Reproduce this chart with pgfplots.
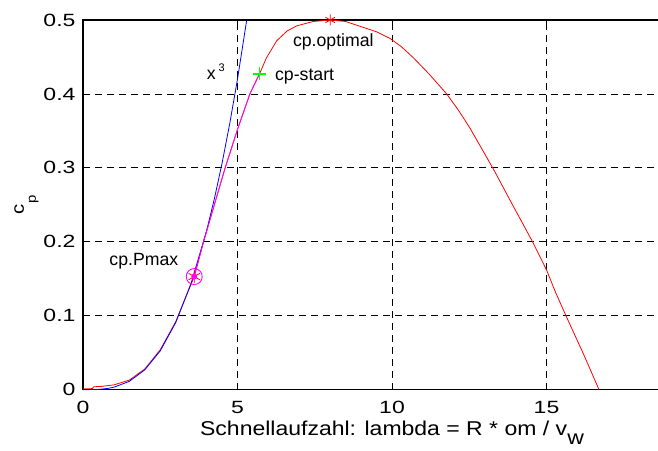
\documentclass[border=0pt]{standalone}
\usepackage{fontspec}
\setmainfont{Liberation Sans}
\newfontfamily\tickfont{Liberation Sans}[FakeStretch=1.3]
\newfontfamily\labfont{Liberation Sans}[FakeStretch=1.15]
\usepackage{pgfplots}
\pgfplotsset{compat=1.18}

\definecolor{mred}{rgb}{1,0,0}
\definecolor{mblue}{rgb}{0,0,1}
\definecolor{mgreen}{rgb}{0,1,0}
\definecolor{mmag}{rgb}{1,0,1}

% power coefficient cp over tip speed ratio lambda
\pgfplotstableread{
lambda cp
0     0.001
0.30  0.0015
0.35  0.004
0.60  0.0045
1.00  0.0065
1.50  0.013
2.00  0.028
2.50  0.054
3.00  0.092
3.60  0.153
3.90  0.200
4.25  0.250
4.60  0.300
5.00  0.352
5.40  0.400
5.71  0.427
5.94  0.449
6.27  0.472
6.60  0.485
6.91  0.492
7.45  0.498
8.00  0.500
8.50  0.498
9.00  0.491
9.50  0.484
9.94  0.475
10.30 0.464
10.69 0.449
11.20 0.427
11.77 0.400
12.15 0.378
12.52 0.354
13.00 0.319
13.30 0.297
13.90 0.250
14.20 0.227
14.55 0.200
15.00 0.162
15.30 0.131
15.63 0.100
16.20 0.048
16.70 0.000
}\cpcurve

% section between cp.Pmax and cp-start
\pgfplotstableread{
lambda cp
3.60  0.153
3.90  0.200
4.25  0.250
4.60  0.300
5.00  0.352
5.40  0.400
5.71  0.427
}\cpstart

% cubic reference x^3
\pgfplotstableread{
lambda cp
0.00 0.0000
0.50 0.0004
0.80 0.0017
1.00 0.0034
1.50 0.0113
2.00 0.0269
2.50 0.0525
3.00 0.0907
3.50 0.1441
4.00 0.2150
4.25 0.2579
4.50 0.3062
4.75 0.3601
5.00 0.4200
5.298 0.5000
}\cubic

\begin{document}
\begin{tikzpicture}
\useasboundingbox (-83pt,-60.3pt) rectangle (575pt,389.7pt);
\clip (-83pt,-60.3pt) rectangle (575pt,389.7pt);
\begin{axis}[
  at={(0pt,0pt)}, anchor=south west,
  width=618pt, height=369.7pt, scale only axis,
  xmin=0, xmax=20, ymin=0, ymax=0.5,
  xtick={0,5,10,15}, xticklabels={0,5,10,15},
  extra x ticks={20}, extra x tick labels={},
  ytick={0,0.1,0.2,0.3,0.4,0.5}, yticklabels={0,0.1,0.2,0.3,0.4,0.5},
  tick align=inside, major tick length=6pt,
  tick style={black, line width=0.8pt},
  axis line style={line width=1.5pt},
  grid=major,
  major grid style={black, line width=0.8pt, dash pattern=on 7pt off 5pt},
  ticklabel style={font=\tickfont\fontsize{17.7pt}{20pt}\selectfont},
  xticklabel style={yshift=-8pt},
  yticklabel style={xshift=-4pt},
  xlabel={Schnellaufzahl: lambda = R * om / v\raisebox{-9pt}{w}},
  ylabel={c\raisebox{-12pt}{\fontsize{13pt}{15pt}\selectfont p}},
  every axis x label/.style={at={(axis description cs:0.5,0)}, anchor=base,
    yshift=-45.3pt, font=\labfont\fontsize{20pt}{24pt}\selectfont},
  every axis y label/.style={at={(axis description cs:-0.0955,0.5)}, rotate=90,
    anchor=base, font=\labfont\fontsize{17.7pt}{20pt}\selectfont},
  clip=false,
  every axis plot/.append style={line width=0.8pt},
]
\addplot[mred, no marks] table[x=lambda, y=cp] {\cpcurve};
\addplot[mblue, no marks] table[x=lambda, y=cp] {\cubic};
\addplot[mmag, no marks] table[x=lambda, y=cp] {\cpstart};

% operating points
\addplot[only marks, mark=asterisk, mark size=5.5pt, mred, mark options={line width=0.8pt}]
  coordinates {(8.0,0.5)};
\addplot[only marks, mark=+, mark size=6.5pt, mgreen, mark options={line width=1.4pt}]
  coordinates {(5.71,0.427)};
\addplot[only marks, mark=o, mark size=8pt, mmag, mark options={line width=0.9pt}]
  coordinates {(3.6,0.153)};
\addplot[only marks, mark=asterisk, mark size=6.5pt, mred, mark options={line width=0.8pt}]
  coordinates {(3.6,0.153)};
\addplot[only marks, mark=*, mark size=2.5pt, mmag]
  coordinates {(3.6,0.153)};

\begin{scope}[every node/.style={inner sep=0pt, font=\fontsize{17.7pt}{20pt}\selectfont}]
\node[anchor=base west] at (axis cs:4.0,0.4197) {x\,\raisebox{8.3pt}{\fontsize{11pt}{13pt}\selectfont 3}};
\node[anchor=base west] at (axis cs:6.21,0.418) {cp-start};
\node[anchor=base west] at (axis cs:6.79,0.464) {cp.optimal};
\node[anchor=base west] at (axis cs:0.85,0.1676) {cp.Pmax};
\end{scope}
\end{axis}
\end{tikzpicture}
\end{document}
